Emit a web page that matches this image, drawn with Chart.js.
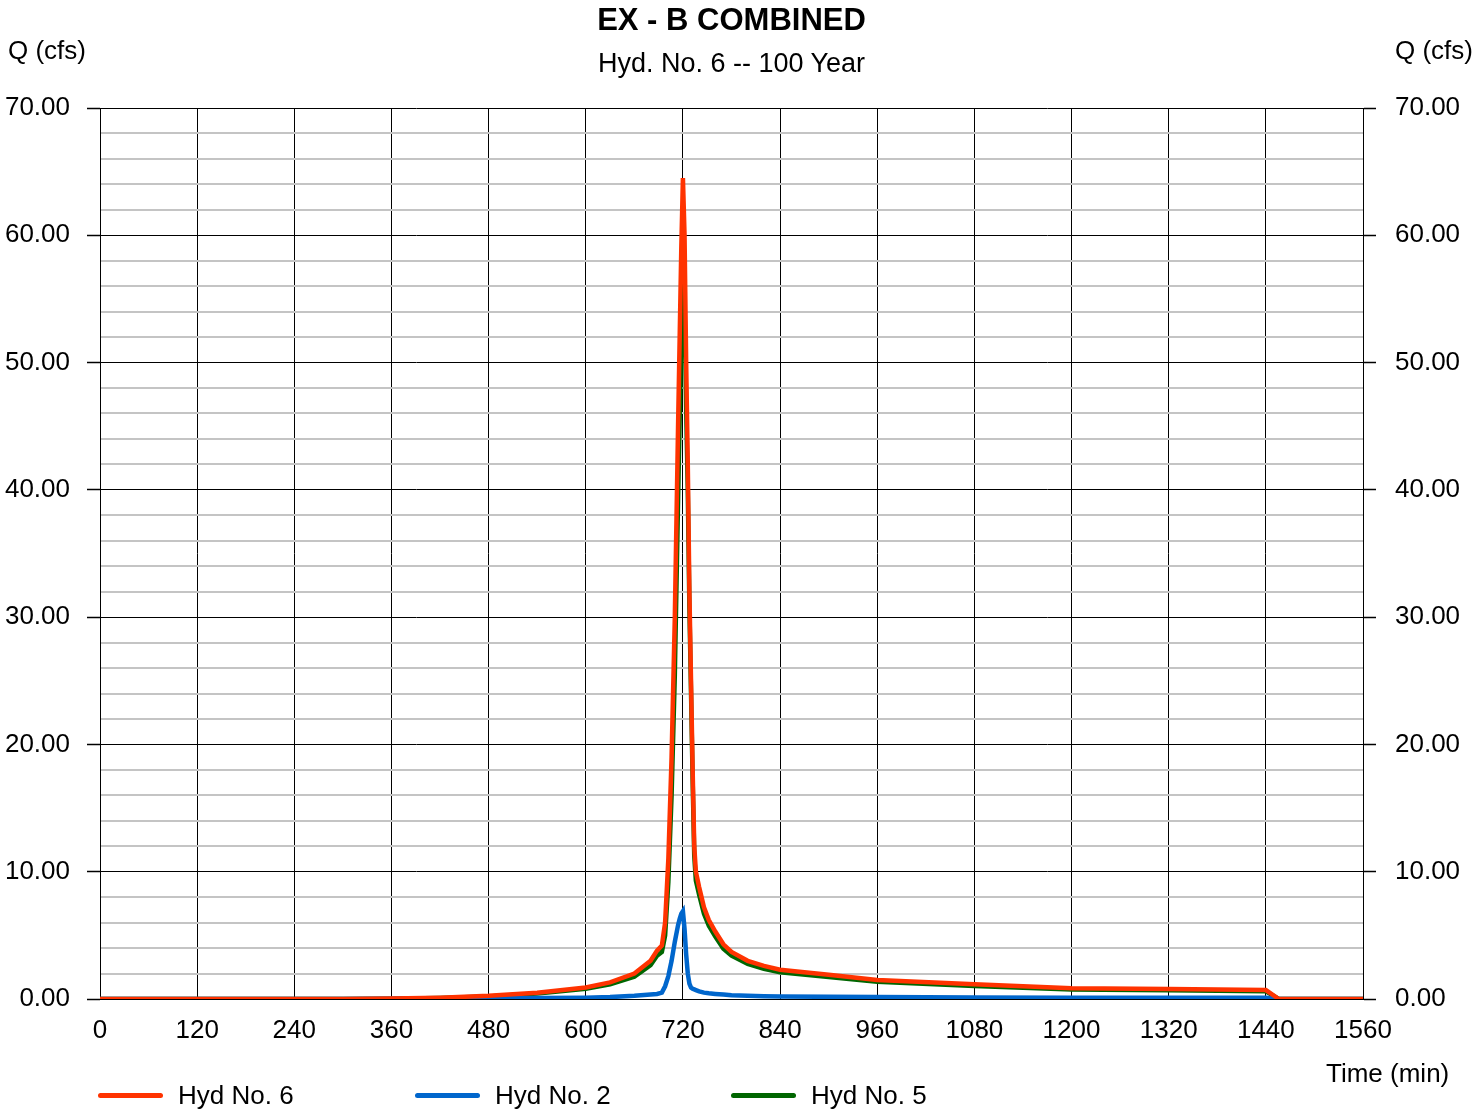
<!DOCTYPE html>
<html>
<head>
<meta charset="utf-8">
<script src="https://cdn.jsdelivr.net/npm/chart.js@4.4.3/dist/chart.umd.min.js"></script>
<style>
  body { margin: 0; background: #fff; font-family: "Liberation Sans", Arial, sans-serif; }
  #wrap { position: relative; width: 1473px; height: 1114px; }
  .txt { position: absolute; font-size: 26px; color: #000; white-space: nowrap; line-height: 1; }
  .legend-item { position: absolute; top: 1080px; display: flex; align-items: center; font-size: 26px; }
  .legend-item span.swatch { display: inline-block; width: 65px; height: 5px; border-radius: 3px; margin-right: 15px; }
</style>
</head>
<body>
<div id="wrap">
  <canvas id="chart" width="1473" height="1114"></canvas>
  <div class="txt" style="left:0;width:1463px;text-align:center;top:4px;font-weight:bold;font-size:31px;">EX - B COMBINED</div>
  <div class="txt" style="left:0;width:1463px;text-align:center;top:50px;font-size:27px;">Hyd. No. 6 -- 100 Year</div>
  <div class="txt" style="left:8px;top:37px;">Q (cfs)</div>
  <div class="txt" style="left:1395px;top:37px;">Q (cfs)</div>
  <div class="txt" style="left:1326px;top:1060px;">Time (min)</div>
  <div id="legend"></div>
</div>
<script>
// time in minutes
const times = [0, 300, 360, 420, 480, 540, 600, 630, 660, 680, 688, 694, 698, 702, 706, 710, 714, 716, 718, 720,
  722, 724, 726, 728, 730, 732, 734, 736, 740, 746, 752, 760, 770, 780, 800, 820, 840, 900, 960, 1080,
  1200, 1320, 1440, 1456, 1560];

// Q (cfs)
const hyd6 = [0, 0, 0.03, 0.1, 0.25, 0.5, 0.9, 1.3, 2.0, 3.0, 3.8, 4.2, 6.0, 11, 19, 30, 45, 52, 59, 64.5,
  60, 50, 42, 32, 25, 18, 12, 10, 8.8, 7.2, 6.2, 5.3, 4.3, 3.7, 3.0, 2.6, 2.3, 1.9, 1.5, 1.15,
  0.85, 0.78, 0.7, 0, 0];
const hyd2 = [0, 0, 0.01, 0.03, 0.05, 0.07, 0.1, 0.15, 0.25, 0.35, 0.4, 0.5, 1.0, 1.8, 3.0, 4.5, 5.8, 6.3, 6.7, 6.9,
  5.5, 3.5, 2.0, 1.2, 0.9, 0.8, 0.75, 0.7, 0.6, 0.5, 0.45, 0.4, 0.35, 0.3, 0.25, 0.22, 0.2, 0.17, 0.15, 0.12,
  0.1, 0.1, 0.1, 0, 0];
const hyd5 = [0, 0, 0.02, 0.07, 0.2, 0.43, 0.8, 1.15, 1.75, 2.65, 3.4, 3.7, 5.0, 9.2, 16, 25.5, 39.2, 45.7, 52.3, 57.6,
  54.5, 46.5, 40, 30.8, 24.1, 17.2, 11.25, 9.3, 8.2, 6.7, 5.75, 4.9, 3.95, 3.4, 2.75, 2.38, 2.1, 1.73, 1.35, 1.03,
  0.75, 0.68, 0.6, 0, 0];

const seriesNames = ['Hyd No. 6', 'Hyd No. 2', 'Hyd No. 5'];
const seriesColors = ['#ff3300', '#0066cc', '#006600'];
const seriesValues = [hyd6, hyd2, hyd5];

const datasets = seriesValues.map((vals, i) => ({
  label: seriesNames[i],
  data: vals.map((v, j) => ({ x: times[j], y: v })),
  borderColor: seriesColors[i],
  borderWidth: 4.5,
  pointRadius: 0,
  tension: 0,
  fill: false,
}));

const majorOrMinor = (ctx, major, minor) => (ctx.tick && Math.round(ctx.tick.value) % 10 === 0 ? major : minor);

new Chart(document.getElementById('chart'), {
  type: 'line',
  data: { datasets },
  options: {
    responsive: false,
    animation: false,
    devicePixelRatio: 1,
    layout: { padding: { top: 108, left: 0, right: 0, bottom: 0 } },
    plugins: { legend: { display: false }, tooltip: { enabled: false }, title: { display: false } },
    scales: {
      x: {
        type: 'linear',
        min: 0,
        max: 1560,
        afterFit: (s) => { s.height = 115; },
        border: { color: '#000', width: 1 },
        grid: { color: '#000', lineWidth: 1, drawTicks: false },
        ticks: {
          stepSize: 120,
          autoSkip: false,
          maxRotation: 0,
          padding: 16,
          color: '#000',
          font: { family: 'Liberation Sans', size: 26 },
          callback: (v) => String(v),
        },
      },
      y: {
        position: 'left',
        min: 0,
        max: 70,
        afterFit: (s) => { s.width = 100; },
        border: { color: '#000', width: 1 },
        grid: {
          color: (ctx) => majorOrMinor(ctx, '#000', '#c4c4c4'),
          lineWidth: (ctx) => majorOrMinor(ctx, 1, 2),
          tickColor: (ctx) => majorOrMinor(ctx, '#000', 'rgba(0,0,0,0)'),
          tickLength: 13,
          tickWidth: 1.5,
        },
        ticks: {
          stepSize: 2,
          autoSkip: false,
          padding: 17,
          color: '#000',
          font: { family: 'Liberation Sans', size: 26 },
          callback: (v) => (Math.round(v) % 10 === 0 ? v.toFixed(2) : ''),
        },
      },
      y2: {
        position: 'right',
        min: 0,
        max: 70,
        afterFit: (s) => { s.width = 110; },
        border: { color: '#000', width: 1 },
        grid: {
          drawOnChartArea: false,
          tickColor: (ctx) => majorOrMinor(ctx, '#000', 'rgba(0,0,0,0)'),
          tickLength: 13,
          tickWidth: 1.5,
        },
        ticks: {
          stepSize: 2,
          autoSkip: false,
          padding: 19,
          color: '#000',
          font: { family: 'Liberation Sans', size: 26 },
          callback: (v) => (Math.round(v) % 10 === 0 ? v.toFixed(2) : ''),
        },
      },
    },
  },
});

// legend below the chart
const legendLefts = [98, 415, 731];
const legend = document.getElementById('legend');
seriesNames.forEach((name, i) => {
  const item = document.createElement('div');
  item.className = 'legend-item';
  item.style.left = legendLefts[i] + 'px';
  item.innerHTML = '<span class="swatch" style="background:' + seriesColors[i] + '"></span>' + name;
  legend.appendChild(item);
});
</script>
</body>
</html>
